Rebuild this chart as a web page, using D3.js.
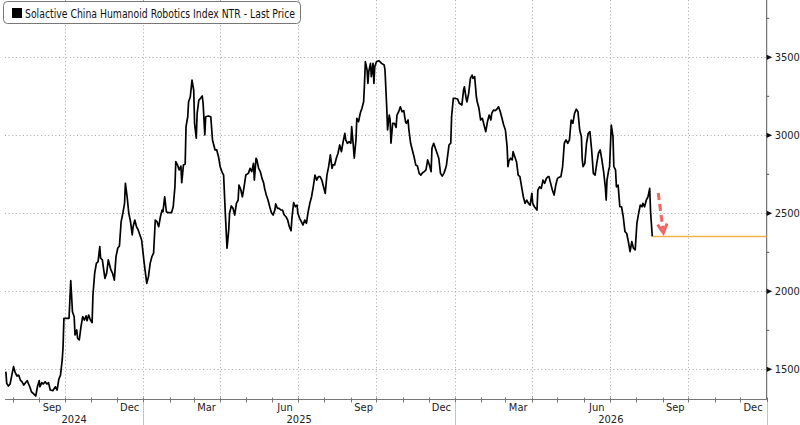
<!DOCTYPE html>
<html>
<head>
<meta charset="utf-8">
<script src="https://cdn.jsdelivr.net/npm/d3@7"></script>
<style>
	body { margin: 0; background: #fff; }
	svg { display: block; font-family: "Liberation Sans Narrow", "DejaVu Sans Condensed", sans-serif; }
</style>
</head>
<body>
<svg id="chart" width="800" height="425"></svg>
<script>
// ---------- data
const seriesName = "Solactive China Humanoid Robotics Index NTR - Last Price";
const startDate = "2024-07-24";

// trading days counted from startDate
const dayOffsets = [
	0,1,3,5,7,9,11,13,15,17,19,21,23,25,26,28,30,32,35,37,39,40,42,44,46,48,50,52,55,58,
	60,62,64,66,67,68,71,74,76,78,80,81,83,84,86,88,90,92,94,95,97,99,101,102,104,106,108,110,111,113,
	116,118,120,123,125,127,129,131,133,135,137,139,140,142,144,146,148,149,151,153,155,157,159,162,165,167,169,171,173,175,
	177,179,181,183,184,186,188,190,194,196,198,199,201,203,205,206,208,210,211,213,214,216,218,220,221,223,224,226,228,230,
	231,233,234,237,240,242,245,247,249,251,253,254,255,257,259,261,262,264,266,268,270,272,273,275,277,279,281,284,286,288,
	290,291,293,294,296,298,300,302,303,305,307,309,311,313,315,316,318,320,322,324,326,328,330,332,334,335,337,339,341,342,
	344,346,348,350,352,354,356,358,360,362,364,366,368,370,372,374,376,378,380,382,383,385,387,389,391,393,395,397,398,400,
	402,404,405,407,408,410,411,413,415,417,419,420,421,423,424,425,427,428,430,431,432,434,437,440,443,444,446,447,449,450,
	451,453,455,457,458,460,462,464,466,468,469,471,472,474,476,478,480,482,484,486,488,490,492,494,496,498,499,501,503,505,
	507,509,511,513,515,516,517,519,521,522,524,526,529,531,534,536,537,539,540,542,544,546,547,549,551,552,554,556,558,560,
	562,564,566,568,569,571,573,575,577,579,581,583,585,587,588,589,591,593,594,596,598,600,602,604,606,608,610,612,614,616,
	617,619,622,623,625,627,629,631,633,635,636,638,640,642,644,646,648,650,652,654,656,658,660,662,664,666,668,670,672,674,
	675,676,678,680,682,684,686,688,690,692,694,696,698,700,702,703,704,706,707,709,711,712,714,715,717,719,721,723,725,727,
	729,731,733,735,737,739,741,743,745,746,748,750,752,754,755,757
];

const prices = [
	1485,1410,1393,1406,1463,1517,1478,1457,1463,1431,1420,1399,1414,1427,1414,1388,1356,1346,1329,1388,1427,1388,1414,1406,1420,1406,1414,1367,1363,1388,
	1367,1436,1463,1560,1645,1827,1827,1827,2068,1869,1837,1720,1752,1699,1688,1773,1837,1816,1842,1812,1848,1816,1799,1976,2115,2179,2190,2286,2212,2201,
	2083,2115,2201,2137,2115,2072,2222,2276,2290,2446,2500,2564,2692,2606,2500,2446,2361,2414,2457,2414,2393,2361,2329,2181,2051,2094,2179,2222,2244,2457,
	2446,2414,2478,2521,2510,2606,2510,2504,2504,2542,2670,2831,2810,2778,2803,2696,2810,2816,3055,3119,3215,3247,3354,3290,3077,2981,3141,3226,3237,3252,
	3205,3002,3119,3124,3119,2970,2906,2906,2863,2799,2767,2756,2745,2500,2276,2393,2500,2547,2532,2489,2564,2585,2681,2654,2606,2670,2745,2756,2788,2767,
	2820,2713,2853,2842,2788,2767,2724,2692,2660,2617,2585,2542,2504,2489,2521,2560,2532,2532,2521,2521,2489,2478,2457,2414,2388,2468,2568,2542,2553,2500,
	2468,2446,2425,2457,2436,2510,2564,2606,2670,2745,2713,2735,2735,2713,2670,2628,2745,2799,2874,2788,2810,2810,2853,2885,2938,2895,2959,3013,2970,2949,
	2959,2949,3055,2927,2853,2970,3109,3087,3141,3173,3215,3333,3472,3419,3333,3408,3461,3376,3461,3333,3440,3472,3478,3461,3451,3419,3183,3034,3130,3098,
	2949,3077,3077,3051,3130,3151,3183,3151,3158,3087,3077,3098,3034,2949,2906,2863,2810,2803,2756,2745,2760,2767,2778,2842,2810,2767,2917,2949,2917,2885,
	2853,2756,2739,2756,2788,2810,2853,2938,2949,3119,3237,3237,3233,3205,3194,3290,3311,3237,3215,3269,3365,3386,3365,3376,3247,3215,3173,3098,3109,3066,
	3023,3087,3130,3098,3141,3162,3158,3167,3183,3151,3109,3066,3034,2927,2799,2831,2853,2842,2895,2863,2831,2745,2735,2670,2606,2564,2585,2564,2553,2628,
	2564,2542,2521,2649,2670,2660,2713,2692,2724,2735,2735,2692,2649,2617,2681,2724,2731,2735,2799,2949,2970,2949,2970,3098,3077,3141,3167,3151,3034,2991,
	2842,2799,2820,2949,3013,3023,2906,2756,2745,2820,2885,2906,2842,2767,2670,2585,2713,2778,2799,3066,2991,2799,2778,2670,2681,2542,2542,2478,2382,2372,
	2318,2254,2318,2276,2265,2436,2500,2553,2542,2564,2542,2585,2606,2660,2510,2352
];

const yTicks = [1500, 2000, 2500, 3000, 3500];
const yMinorTicks = [1750, 2250, 2750, 3250, 3750];
const monthLabels = ["Sep", "Dec", "Mar", "Jun"];

// annotation arrow (days from startDate, index level)
const arrowDays = [764, 770];
const arrowValues = [2630, 2375];

// ---------- layout
const W = 800, H = 425,
	left = 5, right = 766.7,
	axisY = 399.5;

const parse = d3.timeParse("%Y-%m-%d");
const t0 = parse(startDate);
const data = dayOffsets.map((d, i) => ({ date: d3.timeDay.offset(t0, d), value: prices[i] }));
const last = data[data.length - 1];

const x = d3.scaleTime()
	.domain([new Date(2024, 6, 23), new Date(2027, 0, 1)])
	.range([left, right]);

const y = d3.scaleLinear()
	.domain([1500, 3500])
	.range([369.3, 57.3]);

const svg = d3.select("#chart");

//------------- grid
const grid = svg.append("g")
	.attr("stroke", "#a8a8a8")
	.attr("stroke-width", 1)
	.attr("stroke-dasharray", "1,2.6");

grid.selectAll(".hg")
	.data(yTicks)
	.enter().append("line")
		.attr("x1", left).attr("x2", right)
		.attr("y1", d => Math.round(y(d)) + 0.5)
		.attr("y2", d => Math.round(y(d)) + 0.5);

const quarters = d3.timeMonth.every(3).range(x.domain()[0], x.domain()[1]);
grid.selectAll(".vg")
	.data(quarters)
	.enter().append("line")
		.attr("x1", d => Math.round(x(d)) + 0.5)
		.attr("x2", d => Math.round(x(d)) + 0.5)
		.attr("y1", 0).attr("y2", axisY);

//------------- bottom axis
svg.append("line")
	.attr("x1", left).attr("x2", right)
	.attr("y1", axisY).attr("y2", axisY)
	.attr("stroke", "#777").attr("stroke-width", 1);

const months = d3.timeMonth.range(d3.timeMonth.ceil(x.domain()[0]), d3.timeDay.offset(x.domain()[1], 1));
svg.append("g").selectAll("line")
	.data(months)
	.enter().append("line")
		.attr("x1", d => Math.round(x(d)) + 0.5)
		.attr("x2", d => Math.round(x(d)) + 0.5)
		.attr("y1", axisY - 2).attr("y2", axisY + 3)
		.attr("stroke", "#777");

const fmtMonth = d3.timeFormat("%b");
svg.append("g").selectAll("text")
	.data(months.filter(d => monthLabels.includes(fmtMonth(d))))
	.enter().append("text")
		.attr("x", d => x(d3.timeDay.offset(d, 15)))
		.attr("y", 411)
		.attr("text-anchor", "middle")
		.attr("font-size", 11)
		.attr("fill", "#222")
		.text(fmtMonth);

const years = d3.timeYear.range(new Date(2024, 0, 1), x.domain()[1]);
svg.append("g").selectAll("text")
	.data(years)
	.enter().append("text")
		.attr("x", d => {
			const a = Math.max(x(d), left),
				b = Math.min(x(d3.timeYear.offset(d, 1)), right);
			return (a + b) / 2;
		})
		.attr("y", 422.5)
		.attr("text-anchor", "middle")
		.attr("font-size", 11)
		.attr("fill", "#222")
		.text(d3.timeFormat("%Y"));

svg.append("g").selectAll("line")
	.data(d3.timeYear.range(new Date(2025, 0, 1), d3.timeDay.offset(x.domain()[1], 1)))
	.enter().append("line")
		.attr("x1", d => Math.round(x(d)) + 0.5)
		.attr("x2", d => Math.round(x(d)) + 0.5)
		.attr("y1", 403).attr("y2", H)
		.attr("stroke", "#c4c4c4");

//------------- right axis
svg.append("line")
	.attr("x1", right).attr("x2", right)
	.attr("y1", 0).attr("y2", axisY)
	.attr("stroke", "#555").attr("stroke-width", 1);

svg.append("g").selectAll("line")
	.data(yMinorTicks)
	.enter().append("line")
		.attr("x1", right).attr("x2", right + 2.5)
		.attr("y1", d => y(d)).attr("y2", d => y(d))
		.attr("stroke", "#555");

const yAxis = svg.append("g").selectAll("g")
	.data(yTicks)
	.enter().append("g")
		.attr("transform", d => `translate(${right},${y(d)})`);

yAxis.append("path")
	.attr("d", "M0,-2.6L5.5,0L0,2.6Z")
	.attr("fill", "#111");

yAxis.append("text")
	.attr("x", 8)
	.attr("dy", "0.36em")
	.attr("font-size", 11)
	.attr("fill", "#222")
	.text(d => d);

//------------- last price line
svg.append("line")
	.attr("x1", x(last.date)).attr("x2", right)
	.attr("y1", y(last.value)).attr("y2", y(last.value))
	.attr("stroke", "#f3b24c").attr("stroke-width", 1.5);

//------------- series
svg.append("path")
	.datum(data)
	.attr("fill", "none")
	.attr("stroke", "#000")
	.attr("stroke-width", 1.7)
	.attr("stroke-linejoin", "round")
	.attr("d", d3.line().x(d => x(d.date)).y(d => y(d.value)));

//------------- arrow annotation
const ax0 = x(d3.timeDay.offset(t0, arrowDays[0])), ay0 = y(arrowValues[0]),
	ax1 = x(d3.timeDay.offset(t0, arrowDays[1])), ay1 = y(arrowValues[1]);
const ang = Math.atan2(ay1 - ay0, ax1 - ax0),
	hl = 10, hw = 0.5;

const arrow = svg.append("g")
	.attr("fill", "none")
	.attr("stroke", "#f0514b")
	.attr("stroke-width", 3)
	.attr("opacity", 0.88);

arrow.append("line")
	.attr("x1", ax0).attr("y1", ay0)
	.attr("x2", ax1 - 4 * Math.cos(ang)).attr("y2", ay1 - 4 * Math.sin(ang))
	.attr("stroke-dasharray", "7,4");

arrow.append("path")
	.attr("stroke-linejoin", "miter")
	.attr("d", `M${ax1 - hl * Math.cos(ang - hw)},${ay1 - hl * Math.sin(ang - hw)}` +
		`L${ax1},${ay1}` +
		`L${ax1 - hl * Math.cos(ang + hw)},${ay1 - hl * Math.sin(ang + hw)}`);

//------------- legend
const legend = svg.append("g");
legend.append("rect")
	.attr("x", 3.5).attr("y", 1.5)
	.attr("width", 297).attr("height", 22)
	.attr("rx", 4)
	.attr("fill", "#fff")
	.attr("stroke", "#777");

legend.append("rect")
	.attr("x", 12).attr("y", 8)
	.attr("width", 10).attr("height", 10)
	.attr("fill", "#000");

legend.append("text")
	.attr("x", 25).attr("y", 17.5)
	.attr("font-size", 12)
	.attr("textLength", 270)
	.attr("lengthAdjust", "spacingAndGlyphs")
	.attr("fill", "#111")
	.text(seriesName);
</script>
</body>
</html>
